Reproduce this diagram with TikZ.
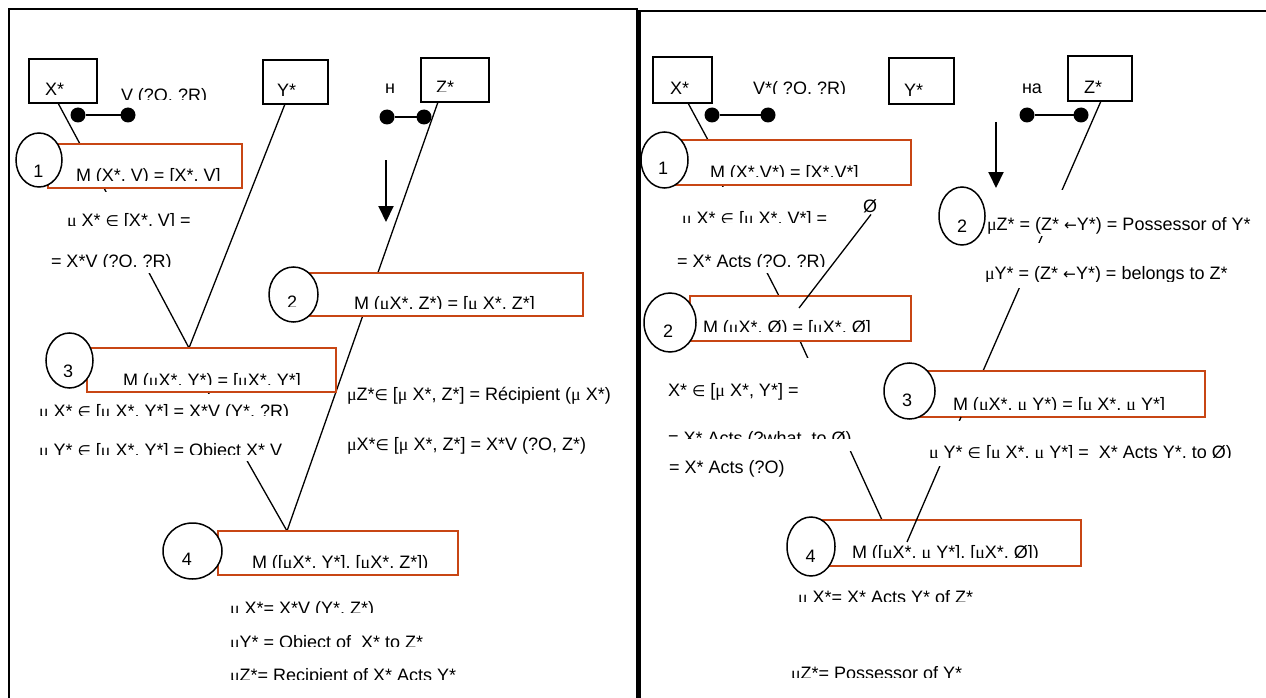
\documentclass[tikz,border=0pt]{standalone}
\usepackage{fontspec}
\setmainfont{Liberation Sans}
\newfontfamily\gkf{Liberation Serif}
\newfontfamily\dvs[Scale=0.85]{DejaVu Sans}
\usetikzlibrary{shapes.geometric,arrows.meta}
\newcommand\mm{{\gkf μ}}
\newcommand\el{{\dvs ∈}}
\newcommand\lar{{\dvs ←}}
\definecolor{obox}{RGB}{200,70,20}
\tikzset{
 txt/.style={anchor=base west, inner sep=0pt, outer sep=0pt, font=\fontsize{18}{20}\selectfont},
 num/.style={anchor=base, inner sep=0pt, outer sep=0pt, font=\fontsize{18}{20}\selectfont},
 bbox/.style={draw=black, line width=1.5pt, fill=white, anchor=north west, inner sep=0pt, outer sep=0pt},
 obx/.style={draw=obox, line width=2pt, fill=white, anchor=north west, inner sep=0pt, outer sep=0pt},
 oval/.style={ellipse, draw=black, line width=1.5pt, fill=white, inner sep=0pt, outer sep=0pt},
 wbox/.style={fill=white, anchor=north west, inner sep=0pt, outer sep=0pt},
 conn/.style={line width=1.3pt},
 dot/.style={circle, fill=black, minimum size=15pt, inner sep=0pt, outer sep=0pt},
 dbl/.style={line width=2pt},
 arr/.style={line width=2pt, -{Triangle[width=15pt,length=16pt]}},
 frame/.style={line width=2pt},
}
\newcommand\ct[5][1.5]{\begin{scope}\clip ({#3-8},{#4-40}) rectangle ({#3+560},{#4-#1});\node[txt] (#2) at (#3,#4) {#5};\end{scope}}
\begin{document}
\begin{tikzpicture}[x=1pt,y=-1pt]
\useasboundingbox[fill=white] (0,0) rectangle (1266,698);
% frames
\draw[frame] (9,698) -- (9,9) -- (637,9) -- (637,698);
\draw[frame, line width=2.6pt] (639.5,698) -- (639.5,11) -- (1266,11);
% black boxes
\node[bbox, minimum width=68pt, minimum height=44pt] (LX) at (29,59) {};
\node[bbox, minimum width=65pt, minimum height=44pt] (LY) at (263,60) {};
\node[bbox, minimum width=68pt, minimum height=44pt] (LZ) at (421,58) {};
\node[bbox, minimum width=59pt, minimum height=46pt] (RX) at (653,57) {};
\node[bbox, minimum width=65pt, minimum height=46pt] (RY) at (889,58) {};
\node[bbox, minimum width=64pt, minimum height=45pt] (RZ) at (1068,56) {};
% orange boxes (positions only, drawn later)
\node[obx, draw=none, fill=none, minimum width=194pt, minimum height=44pt] (L1) at (48,144) {};
\node[obx, draw=none, fill=none, minimum width=273pt, minimum height=43pt] (L2) at (310,273) {};
\node[obx, draw=none, fill=none, minimum width=249pt, minimum height=44pt] (L3) at (87,348) {};
\node[obx, draw=none, fill=none, minimum width=240pt, minimum height=44pt] (L4) at (218,531) {};
\node[obx, draw=none, fill=none, minimum width=256pt, minimum height=45pt] (R1) at (655,140) {};
\node[obx, draw=none, fill=none, minimum width=221pt, minimum height=45pt] (R2) at (690,296) {};
\node[obx, draw=none, fill=none, minimum width=285pt, minimum height=46pt] (R3) at (920,371) {};
\node[obx, draw=none, fill=none, minimum width=258pt, minimum height=46pt] (R4) at (823,520) {};
% connectors under the boxes
\draw[conn] ([xshift=29pt]LX.south west) -- ([xshift=32pt]L1.north west);
\draw[conn] ([xshift=22pt]LY.south west) -- ([xshift=102pt]L3.north west);
\draw[conn] ([xshift=17pt]LZ.south west) -- ([xshift=69pt]L4.north west);
\draw[conn] ([xshift=56pt]L1.south west) -- ([xshift=102pt]L3.north west);
\draw[conn] ([xshift=121pt]L3.south west) -- ([xshift=69pt]L4.north west);
\draw[conn] ([xshift=35pt]RX.south west) -- ([xshift=53pt]R1.north west);
\draw[conn] ([xshift=67pt]R1.south west) -- ([xshift=89pt]R2.north west);
\draw[conn] ([xshift=110pt]R2.south west) -- ([xshift=59pt]R4.north west);
\draw[conn] ([xshift=33pt]RZ.south west) -- ([xshift=63pt]R3.north west);
% orange boxes drawn
\node[obx, minimum width=194pt, minimum height=44pt] at (48,144) {};
\node[obx, minimum width=273pt, minimum height=43pt] at (310,273) {};
\node[obx, minimum width=249pt, minimum height=44pt] at (87,348) {};
\node[obx, minimum width=240pt, minimum height=44pt] at (218,531) {};
\node[obx, minimum width=256pt, minimum height=45pt] at (655,140) {};
\node[obx, minimum width=221pt, minimum height=45pt] at (690,296) {};
\node[obx, minimum width=285pt, minimum height=46pt] at (920,371) {};
\node[obx, minimum width=258pt, minimum height=46pt] at (823,520) {};
% connectors over the boxes
\node[txt] (oslash) at (863,212) {Ø};
\coordinate (hend) at (799,308);
\coordinate (kend) at (907,542);
\draw[conn] ([xshift=1pt,yshift=-2pt]oslash.south) -- (hend);
\draw[conn] ([xshift=41pt]R3.south west) -- (kend);
% white text boxes hiding connectors
\node[wbox, minimum width=160pt, minimum height=81pt] (TBL1) at (45,192) {};
\node[wbox, minimum width=265pt, minimum height=67pt] (TBL3) at (35,394) {};
\node[wbox, minimum width=148pt, minimum height=86pt] (TBR1) at (670,187) {};
\node[wbox, minimum width=210pt, minimum height=93pt] (TBR2) at (660,358) {};
\node[wbox, minimum width=265pt, minimum height=46pt] (TBR3) at (985,190) {};
\node[wbox, minimum width=265pt, minimum height=45pt] (TBR4) at (985,243) {};
\node[wbox, minimum width=315pt, minimum height=45pt] (TBR5) at (935,421) {};
% ovals
\node[oval, minimum width=46pt, minimum height=54pt] (CL1) at (39,160) {};
\node[oval, minimum width=49pt, minimum height=55pt] (CL2) at (293.5,294.5) {};
\node[oval, minimum width=47pt, minimum height=55pt] (CL3) at (69.5,360.5) {};
\node[oval, minimum width=59pt, minimum height=56pt] (CL4) at (192.5,551) {};
\node[oval, minimum width=47pt, minimum height=56pt] (CR1) at (664.5,160) {};
\node[oval, minimum width=52pt, minimum height=59pt] (CR2) at (670,322.5) {};
\node[oval, minimum width=46pt, minimum height=58pt] (CR2b) at (962,216) {};
\node[oval, minimum width=51pt, minimum height=56pt] (CR3) at (909.5,391) {};
\node[oval, minimum width=48pt, minimum height=59pt] (CR4) at (811,546.5) {};
% dumbbells
\node[dot] (d1) at (78,115) {};
\node[dot] (d2) at (128,115) {};
\draw[dbl] (d1) -- (d2);
\node[dot] (d3) at (387,117) {};
\node[dot] (d4) at (424,117) {};
\draw[dbl] (d3) -- (d4);
\node[dot] (d5) at (712,115) {};
\node[dot] (d6) at (768,115) {};
\draw[dbl] (d5) -- (d6);
\node[dot] (d7) at (1027,115) {};
\node[dot] (d8) at (1081,115) {};
\draw[dbl] (d7) -- (d8);
% arrows
\coordinate (la1) at (386,160); \coordinate (la2) at (386,222);
\draw[arr] (la1) -- (la2);
\coordinate (ra1) at (996,122); \coordinate (ra2) at (996,188);
\draw[arr] (ra1) -- (ra2);
% ---------- left texts
\node[txt] (tLX) at (45,95.5) {X*};
\ct{tLV}{121}{101.5}{V (?O, ?R)}
\node[txt] (tLY) at (277,97) {Y*};
\node[txt] (tLn) at (385,94) {н};
\ct{tLZ}{436}{93.5}{Z*}
\ct{tL1}{76}{181.5}{M (X*, V) = [X*, V]}
\ct{tL1a}{67}{226.5}{\mm{} X* \el{} [X*, V] =}
\ct{tL1b}{51}{267.5}{= X*V (?O, ?R)}
\ct{tL2}{354}{309.5}{M (\mm X*, Z*) = [\mm{} X*, Z*]}
\ct{tL3}{123}{386}{M (\mm X*, Y*) = [\mm X*, Y*]}
\ct{tL3a}{39}{417}{\mm{} X* \el{} [\mm{} X*, Y*] = X*V (Y*, ?R)}
\ct{tL3b}{39}{456}{\mm{} Y* \el{} [\mm{} X*, Y*] = Object X* V}
\node[txt] (tL2a) at (347,400) {\mm Z*\el{} [\mm{} X*, Z*] = Récipient (\mm{} X*)};
\node[txt] (tL2b) at (347,450) {\mm X*\el{} [\mm{} X*, Z*] = X*V (?O, Z*)};
\ct{tL4}{252}{568.5}{M ([\mm X*, Y*], [\mm X*, Z*])}
\ct{tL4a}{230}{614}{\mm{} X*= X*V (Y*, Z*)}
\ct{tL4b}{230}{648}{\mm Y* = Object of~ X* to Z*}
\ct{tL4c}{230}{681}{\mm Z*= Recipient of X* Acts Y*}
\node[num] (nL1) at (38.5,177) {1};
\ct{nL2}{287}{308}{2}
\ct{nL3}{63}{377.5}{3}
\node[num] (nL4) at (187,565) {4};
% ---------- right texts
\node[txt] (tRX) at (670,95) {X*};
\ct{tRV}{753}{95}{V*( ?O, ?R)}
\node[txt] (tRY) at (904,96.5) {Y*};
\node[txt] (tRna) at (1022,94) {на};
\node[txt] (tRZ) at (1084,94) {Z*};
\ct{tR1}{710}{178}{M (X*,V*) = [X*,V*]}
\ct{tR1a}{682}{224}{\mm{} X* \el{} [\mm{} X*, V*] =}
\ct{tR1b}{677}{267.5}{= X* Acts (?O, ?R)}
\ct{tR2}{703}{333}{M (\mm X*, Ø) = [\mm X*, Ø]}
\node[txt] (tR2a) at (668,396.5) {X* \el{} [\mm{} X*, Y*] =};
\ct[6.5]{tR2b}{668}{444.5}{= X* Acts (?what, to Ø)}
\node[txt] (tR2c) at (669,473) {= X* Acts (?O)};
\node[txt] (tRp1) at (987,230) {\mm Z* = (Z* \lar Y*) = Possessor of Y*};
\ct[-2]{tRp2}{985}{279.5}{\mm Y* = (Z* \lar Y*) = belongs to Z*}
\ct{tR3}{953}{410.5}{M (\mm X*, \mm{} Y*) = [\mm{} X*, \mm{} Y*]}
\ct{tR3a}{929}{458.5}{\mm{} Y* \el{} [\mm{} X*, \mm{} Y*] =~ X* Acts Y*, to Ø)}
\ct{tR4}{852}{558.5}{M ([\mm X*, \mm{} Y*], [\mm X*, Ø])}
\ct{tR4a}{798}{603}{\mm{} X*= X* Acts Y* of Z*}
\ct{tR4b}{791}{679}{\mm Z*= Possessor of Y*}
\node[num] (nR1) at (663,175) {1};
\node[num] (nR2) at (668,337) {2};
\node[num] (nR2b) at (962,232) {2};
\node[num] (nR3) at (907,406) {3};
\node[num] (nR4) at (810.5,562) {4};
\end{tikzpicture}
\end{document}
